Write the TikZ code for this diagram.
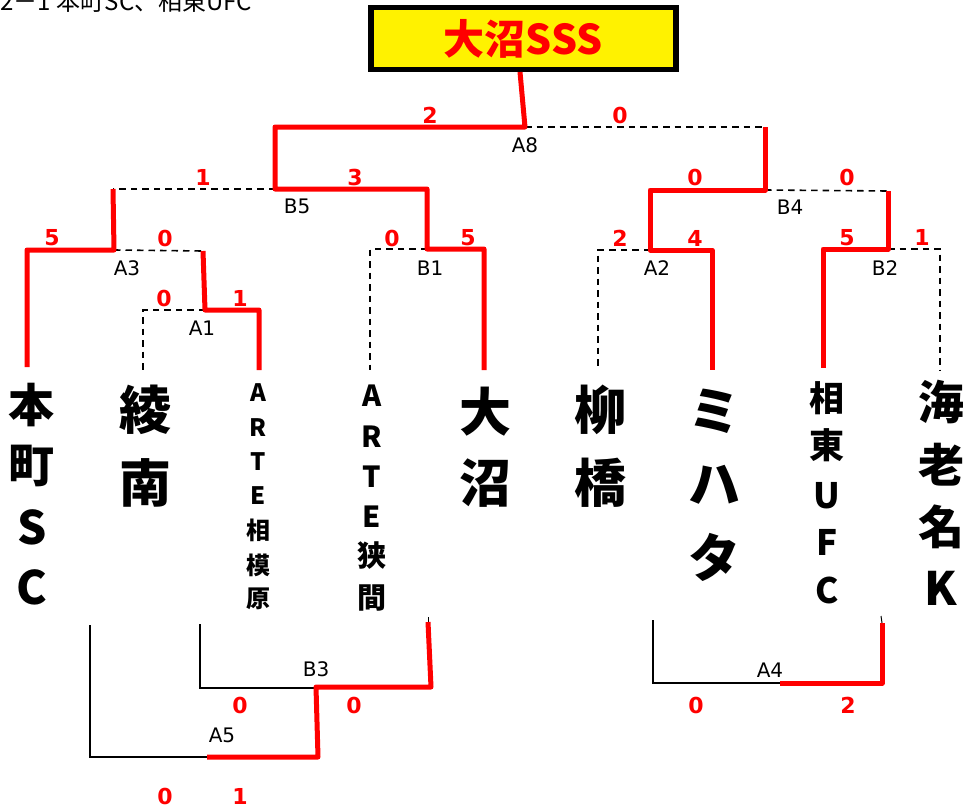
\documentclass[tikz,border=0pt]{standalone}
\usepackage{fontspec}
\setmainfont{DejaVu Sans}
\newfontfamily\jp{Noto Sans CJK JP}
\tikzset{
  win/.style={draw=red, line width=5pt, line join=round},
  lose/.style={draw=black, line width=1.6pt, dash pattern=on 6.5pt off 5pt},
  plain/.style={draw=black, line width=1.5pt},
  score/.style={text=red, font=\bfseries\fontsize{22}{22}\selectfont, inner sep=0pt},
  lab/.style={text=black, font=\fontsize{20}{20}\selectfont, inner sep=0pt},
  tm/.style={inner sep=0pt, anchor=base, font=\jp\bfseries\fontsize{#1}{#1}\selectfont},
}
\begin{document}
\begin{tikzpicture}[x=1pt,y=-1pt]
\useasboundingbox (0,0) rectangle (963,808);
\fill[white] (0,0) rectangle (963,808);

% header text (cut off at the top edge, as in the reference)
\node[inner sep=0pt, anchor=base west, font=\jp\fontsize{24}{24}\selectfont] (hdr) at (0,11) {2－1\hspace{6pt}本町SC、相東UFC};

% title box
\node[draw=black, line width=4pt, fill=yellow, minimum width=306.5pt, minimum height=63pt, inner sep=0pt,
      text=red, font=\jp\bfseries\fontsize{41}{41}\selectfont] (title) at (523.3,38.5) {大沼SSS};
\draw[black, line width=2pt] ([shift={(4.5,4.5)}]title.north west) rectangle ([shift={(-4.5,-4.5)}]title.south east);

% junctions
\coordinate (tb) at (520,72);
\coordinate (A8) at (525,127);
\coordinate (B5) at (275,189);
\coordinate (B4) at (765,190);
\coordinate (A3) at (114,250);
\coordinate (A1) at (205,310);
\coordinate (B1) at (427,249);
\coordinate (A2) at (650,250);
\coordinate (B2) at (888,249);
\coordinate (a3t) at (113,189);
\coordinate (a1t) at (203,251);
\coordinate (b2t) at (888,191);
\coordinate (b4t) at (765,127);
% team tops
\coordinate (p1) at (27,367);
\coordinate (p2) at (143,370);
\coordinate (p3) at (259,370);
\coordinate (p4) at (370,370);
\coordinate (p5) at (484,370);
\coordinate (p6) at (598,370);
\coordinate (p7) at (712,370);
\coordinate (p8) at (823,368);
\coordinate (p9) at (940,370);

% losers (dashed)
\draw[lose] (A8) -- (b4t);
\draw[lose] (B5) -- (a3t);
\draw[lose] (B4) -- (b2t);
\draw[lose] (A3) -- (a1t);
\draw[lose] (A1) -| (p2);
\draw[lose] (B1) -| (p4);
\draw[lose] (A2) -| (p6);
\draw[lose] (B2) -| (p9);

% winners (red)
\draw[win] (tb) -- (A8) -| (B5) -| (B1) -| (p5);
\draw[win] (a3t) -- (A3) -| (p1);
\draw[win] (a1t) -- (A1) -| (p3);
\draw[win] (b4t) -- (B4) -| (A2) -| (p7);
\draw[win] (b2t) -- (B2) -| (p8);

% labels
\node[lab] (lA8) at (525,145) {A8};
\node[lab] (lB5) at (297,206) {B5};
\node[lab] (lB4) at (790,207) {B4};
\node[lab] (lA3) at (127,268) {A3};
\node[lab] (lB1) at (430,268) {B1};
\node[lab] (lA2) at (657,268) {A2};
\node[lab] (lB2) at (885,268) {B2};
\node[lab] (lA1) at (202,328) {A1};

% scores
\node[score] (s1) at (430,115) {2};
\node[score] (s2) at (620,115) {0};
\node[score] (s3) at (203,177) {1};
\node[score] (s4) at (355,177) {3};
\node[score] (s5) at (695,177) {0};
\node[score] (s6) at (847,177) {0};
\node[score] (s7) at (52,238) {5};
\node[score] (s8) at (165,238) {0};
\node[score] (s9) at (392,238) {0};
\node[score] (s10) at (468,238) {5};
\node[score] (s11) at (620,238) {2};
\node[score] (s12) at (695,238) {4};
\node[score] (s13) at (847,238) {5};
\node[score] (s14) at (922,237) {1};
\node[score] (s15) at (164,298) {0};
\node[score] (s16) at (240,298) {1};

% team names
\foreach \c/\y [count=\i] in {本/405,町/465,S/527,C/587}
  \node[tm=46] (ta\i) at (32,\y+17) {\c};
\foreach \c/\y [count=\i] in {綾/410,南/483}
  \node[tm=52] (tb\i) at (145,\y+19) {\c};
\foreach \c/\y [count=\i] in {A/392,R/427,T/461,E/495,相/530,模/565,原/598}
  \node[tm=24] (tc\i) at (258,\y+9) {\c};
\foreach \c/\y [count=\i] in {A/395,R/436,T/476,E/516,狭/555,間/597}
  \node[tm=29] (td\i) at (372,\y+11) {\c};
\foreach \c/\y [count=\i] in {大/412,沼/483}
  \node[tm=52] (te\i) at (485,\y+19) {\c};
\foreach \c/\y [count=\i] in {柳/410,橋/483}
  \node[tm=52] (tf\i) at (600,\y+19) {\c};
\foreach \c/\y [count=\i] in {ミ/411,ハ/484,タ/558}
  \node[tm=52] (tg\i) at (714,\y+19) {\c};
\foreach \c/\y [count=\i] in {相/398,東/445,U/495,F/542,C/590}
  \node[tm=35] (th\i) at (827,\y+13) {\c};
\foreach \c/\y [count=\i] in {海/402,老/465,名/527,K/588}
  \node[tm=46] (ti\i) at (941,\y+17) {\c};

% lower bracket
\coordinate (b3w) at (200,624);
\coordinate (b3c) at (200,688);
\coordinate (B3) at (315,688);
\coordinate (b3m) at (316,687);
\coordinate (b3r) at (431,687);
\coordinate (b3rt) at (428,622);
\coordinate (b3tk) at (428,617);
\coordinate (A5) at (207,757);
\coordinate (a5c) at (318,757);
\coordinate (a5l) at (90,757);
\coordinate (a5lt) at (90,625);
\coordinate (A4) at (780,683);
\coordinate (a4l) at (653,683);
\coordinate (a4lt) at (653,620);
\coordinate (a4r) at (882,683);
\coordinate (a4rt) at (882,623);
\coordinate (a4tk) at (881,616);

\draw[plain] (b3w) -- (b3c) -- (B3);
\draw[plain] (A5) -- (a5l) -- (a5lt);
\draw[plain] (a4lt) -- (a4l) -- (A4);
\draw[black, line width=1pt] (b3tk) -- (b3rt);
\draw[black, line width=1pt] (a4tk) -- (a4rt);
\draw[win] (b3rt) -- (b3r) -- (b3m) -- (a5c) -- (A5);
\draw[win] (A4) -- (a4r) -- (a4rt);

\node[lab] (lB3) at (316,669) {B3};
\node[lab] (lA5) at (222,735) {A5};
\node[lab] (lA4) at (770,670) {A4};

\node[score] (s17) at (240,705) {0};
\node[score] (s18) at (354,705) {0};
\node[score] (s19) at (165,796) {0};
\node[score] (s20) at (240,796) {1};
\node[score] (s21) at (696,705) {0};
\node[score] (s22) at (848,705) {2};
\end{tikzpicture}
\end{document}
